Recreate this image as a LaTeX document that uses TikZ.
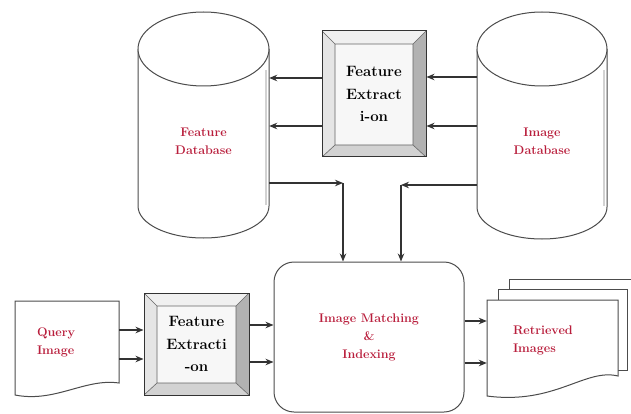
\documentclass[tikz,border=0pt]{standalone}
\usetikzlibrary{arrows,arrows.meta}
\usetikzlibrary{positioning}
\usetikzlibrary{calc}
\definecolor{dbred}{RGB}{185,30,60}

\begin{document}
\begin{tikzpicture}[x=1pt,y=-1pt,->,>={Stealth[length=8pt,width=6.5pt]},
		font=\fontsize{12.5}{18}\selectfont\bfseries]
		\tikzstyle{redtext}=[text=dbred,align=center,inner sep=0pt]
		\tikzstyle{wire}=[draw=black!80,line width=1.3pt]
		\tikzstyle{outline}=[-,draw=black!70,line width=1pt,fill=white]
		\tikzstyle{bevelbox}=[draw=black!80,line width=1pt,fill=gray!6,align=center,
		font=\fontsize{15}{22.5}\selectfont\bfseries,
		path picture={
			\coordinate (nw) at (path picture bounding box.north west);
			\coordinate (ne) at (path picture bounding box.north east);
			\coordinate (sw) at (path picture bounding box.south west);
			\coordinate (se) at (path picture bounding box.south east);
			\coordinate (inw) at ([xshift=13pt,yshift=-13pt]nw);
			\coordinate (ine) at ([xshift=-13pt,yshift=-13pt]ne);
			\coordinate (isw) at ([xshift=13pt,yshift=12pt]sw);
			\coordinate (ise) at ([xshift=-13pt,yshift=12pt]se);
			\fill[gray!12] (nw) -- (ne) -- (ine) -- (inw) -- cycle;
			\fill[gray!20] (nw) -- (inw) -- (isw) -- (sw) -- cycle;
			\fill[gray!60] (ne) -- (se) -- (ise) -- (ine) -- cycle;
			\fill[gray!35] (sw) -- (isw) -- (ise) -- (se) -- cycle;
			\draw[-,black!60,line width=0.6pt] (inw) rectangle (ise) (nw) -- (inw) (ne) -- (ine) (sw) -- (isw) (se) -- (ise);
		}]
		
		\useasboundingbox (0,0) rectangle (631,414);
		
		% databases
		\draw[outline] (138,49) -- (138,206) arc[start angle=180,end angle=0,x radius=65.5,y radius=32] -- (269,49);
		\draw[-,gray!35,line width=2pt] (266,70) -- (266,205);
		\draw[outline] (203.5,49) ellipse [x radius=65.5,y radius=37];
		\node[redtext,minimum width=131pt,minimum height=190pt] (featdb) at (203.5,141) {Feature\\Database};
		
		\draw[outline] (477,49) -- (477,207) arc[start angle=180,end angle=0,x radius=65,y radius=32] -- (607,49);
		\draw[-,gray!35,line width=2pt] (604,70) -- (604,206);
		\draw[outline] (542,49) ellipse [x radius=65,y radius=37];
		\node[redtext,minimum width=130pt,minimum height=190pt] (imgdb) at (542,141) {Image\\Database};
		
		% extraction boxes
		\node[bevelbox,minimum width=104pt,minimum height=126pt] (extract) at (374,94) {Feature\\Extract\\i-on};
		\node[bevelbox,minimum width=105pt,minimum height=102pt] (queryext) at (196.5,344) {Feature\\Extracti\\-on};
		
		% matching
		\node[redtext,draw=black!70,line width=1pt,rounded corners=20pt,minimum width=190pt,
		minimum height=150pt] (match) at (369,337) {Image Matching\\\&\\Indexing};
		
		% query document
		\draw[outline] (15,301) -- (119,301) -- (119,383) .. controls (85,378) and (55,403) .. (15,395) -- cycle;
		\node[redtext,minimum width=104pt,minimum height=82pt,text width=60pt,inner xsep=22pt,
		align=left] (query) at (67,342) {Query\\Image};
		
		% retrieved pages
		\draw[-,draw=black!70,line width=1pt] (509,289) -- (509,279) -- (631,279);
		\draw[-,draw=black!70,line width=1pt] (498,300) -- (498,289) -- (627,289) -- (627,370) -- (618,370);
		\draw[outline] (487,300) -- (618,300) -- (618,376) .. controls (585,368) and (555,405) .. (487,396) -- cycle;
		\node[redtext,minimum width=131pt,minimum height=80pt,text width=79pt,inner xsep=26pt,
		align=left] (retr) at (552.5,340) {Retrieved\\Images};
		
		% connectors
		\coordinate (fdturn) at (343,183);
		\coordinate (idturn) at (401,185);
		\draw[wire] (imgdb.west |- 0,77) -- (extract.east |- 0,77);
		\draw[wire] (imgdb.west |- 0,126) -- (extract.east |- 0,126);
		\draw[wire] (extract.west |- 0,78) -- (featdb.east |- 0,78);
		\draw[wire] (extract.west |- 0,126) -- (featdb.east |- 0,126);
		\draw[wire] (featdb.east |- fdturn) -- (fdturn);
		\draw[wire] (fdturn) -- (match.north -| fdturn);
		\draw[wire] (imgdb.west |- idturn) -- (idturn);
		\draw[wire] (idturn) -- (match.north -| idturn);
		\draw[wire] (query.east |- 0,330) -- (queryext.west |- 0,330);
		\draw[wire] (query.east |- 0,359) -- (queryext.west |- 0,359);
		\draw[wire] (queryext.east |- 0,325) -- (match.west |- 0,325);
		\draw[wire] (queryext.east |- 0,362) -- (match.west |- 0,362);
		\draw[wire] (match.east |- 0,321) -- (retr.west |- 0,321);
		\draw[wire] (match.east |- 0,363) -- (retr.west |- 0,363);
		
\end{tikzpicture}
\end{document}
